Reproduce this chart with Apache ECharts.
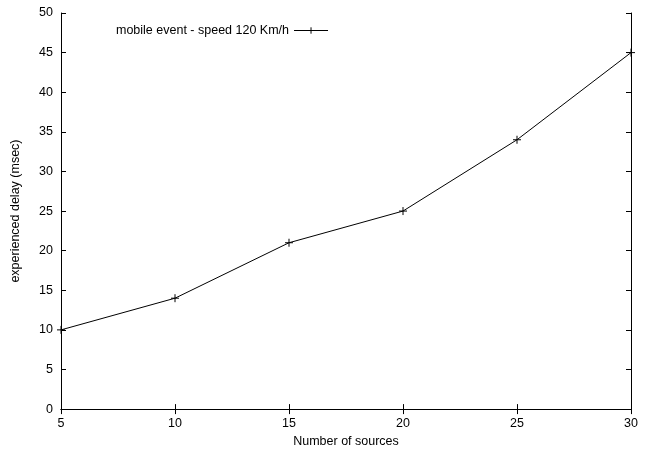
<!DOCTYPE html>
<html><head><meta charset="utf-8">
<script src="https://cdn.jsdelivr.net/npm/echarts@6/dist/echarts.min.js"></script>
<style>html,body{margin:0;padding:0;background:#fff}#c{width:658px;height:453px}</style>
</head><body><div id="c"></div>
<script>
const xValues = [5, 10, 15, 20, 25, 30];
const delayValues = [10, 14, 21, 25, 34, 45];
const seriesName = 'mobile event - speed 120 Km/h';
const xTitle = 'Number of sources';
const yTitle = 'experienced delay (msec)';

const font = 'Liberation Sans, Arial, Helvetica, sans-serif';
const fs = 12.5;
const chart = echarts.init(document.getElementById('c'), null, {renderer: 'canvas'});
const axisCommon = {
  axisLine: {lineStyle: {color: '#000', width: 1}},
  axisTick: {inside: true, length: 5, lineStyle: {color: '#000'}},
  splitLine: {show: false}
};
const plus = 'path://M0,5L10,5M5,0L5,10';
chart.setOption({
  animation: false,
  textStyle: {fontFamily: font},
  grid: {left: 61, right: 27, top: 13, bottom: 40, containLabel: false},
  legend: {
    left: 111, top: 19, align: 'right', itemWidth: 34, itemHeight: 8,
    textStyle: {fontFamily: font, fontSize: fs, color: '#000'},
    lineStyle: {width: 1, color: '#000'},
    itemStyle: {color: 'transparent', borderColor: '#000', borderWidth: 1},
    data: [seriesName]
  },
  xAxis: [
    Object.assign({type: 'value', min: 5, max: 30, interval: 5, position: 'bottom',
      name: xTitle, nameLocation: 'middle', nameGap: 25,
      nameTextStyle: {fontFamily: font, fontSize: fs, color: '#000'},
      axisLabel: {fontFamily: font, fontSize: fs, color: '#000', margin: 8}}, axisCommon),
    Object.assign({type: 'value', min: 5, max: 30, interval: 5, position: 'top',
      axisLabel: {show: false}}, axisCommon)
  ],
  yAxis: [
    Object.assign({type: 'value', min: 0, max: 50, interval: 5, position: 'left',
      name: yTitle, nameLocation: 'middle', nameGap: 39, nameRotate: 90,
      nameTextStyle: {fontFamily: font, fontSize: fs, color: '#000'},
      axisLabel: {fontFamily: font, fontSize: fs, color: '#000', margin: 8}}, axisCommon),
    Object.assign({type: 'value', min: 0, max: 50, interval: 5, position: 'right',
      axisLabel: {show: false}}, axisCommon)
  ],
  series: [{
    name: seriesName, type: 'line',
    data: xValues.map((x, i) => [x, delayValues[i]]),
    symbol: plus, symbolSize: 8, showSymbol: true,
    lineStyle: {color: '#000', width: 1},
    itemStyle: {color: 'transparent', borderColor: '#000', borderWidth: 1},
    emphasis: {disabled: true}
  }]
});
</script></body></html>
